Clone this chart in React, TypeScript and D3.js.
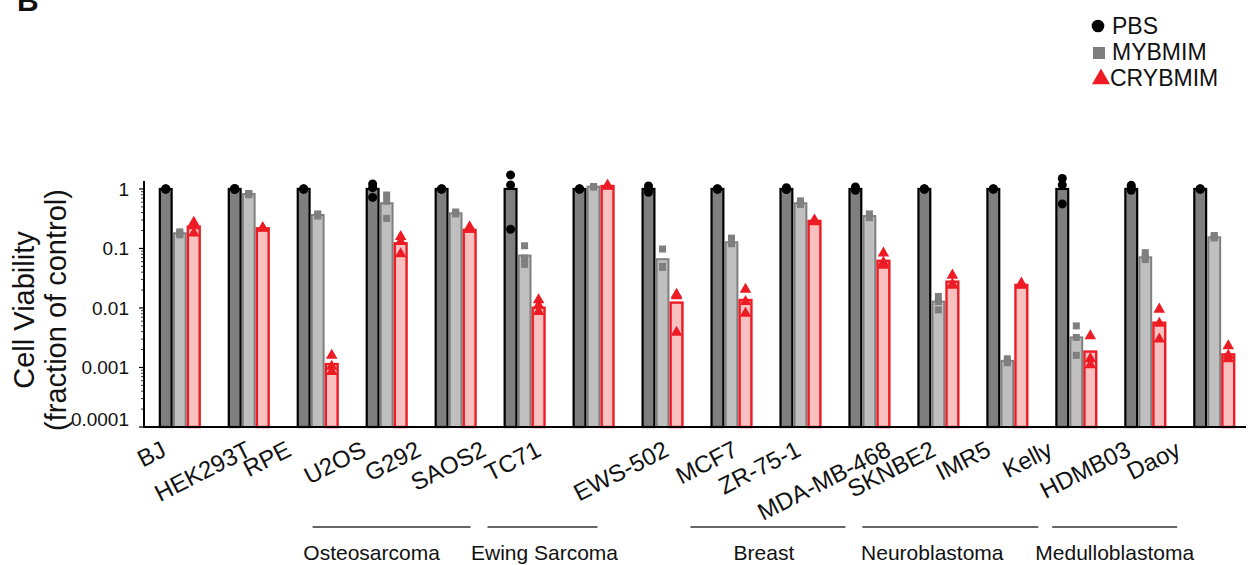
import React from "react";
import * as d3 from "d3";

// cell lines on the x axis
const cellLines = ["BJ", "HEK293T", "RPE", "U2OS", "G292", "SAOS2", "TC71", "EWS-502", "MCF7", "ZR-75-1", "MDA-MB-468", "SKNBE2", "IMR5", "Kelly", "HDMB03", "Daoy"];
const treatments = ["PBS", "MYBMIM", "CRYBMIM"];

// bar heights (fraction of control)
const pbsBars = [1, 1, 1, 1, 1, 1, 1, 1, 1, 1, 1, 1, 1, 1, 1, 1];
const mybBars = [0.18, 0.82, 0.365, 0.575, 0.39, 0.076, 1.09, 0.066, 0.127, 0.575, 0.35, 0.0128, 0.00129, 0.0032, 0.071, 0.154];
const crybBars = [0.233, 0.218, 0.00114, 0.122, 0.205, 0.0101, 1.12, 0.0123, 0.0136, 0.29, 0.062, 0.0277, 0.0244, 0.00185, 0.00566, 0.00166];

// replicate points
const pbsPoints = [
  [1, 1, 1], [1.02, 1, 0.98], [1, 1, 1], [1.21, 1.05, 0.72], [1, 1, 1], [1.72, 1.17, 0.21],
  [1, 1, 1], [1.12, 1, 0.88], [1, 1, 1], [1.05, 1, 0.98], [1.08, 1, 0.95], [1, 1, 1],
  [1, 1, 1], [1.5, 1.17, 0.56], [1.15, 1.05, 0.95], [1, 1, 1],
];
const mybPoints = [
  [0.19, 0.17, 0.18], [0.84, 0.8, 0.82], [0.38, 0.35, 0.36], [0.79, 0.62, 0.32], [0.41, 0.38, 0.39], [0.111, 0.069, 0.054],
  [1.1, 1.08, 1.09], [0.098, 0.05, 0.048], [0.149, 0.12, 0.125], [0.63, 0.55, 0.57], [0.38, 0.33, 0.34], [0.0156, 0.0128, 0.0093],
  [0.0014, 0.00128, 0.0012], [0.005, 0.0032, 0.0016], [0.085, 0.072, 0.065], [0.165, 0.15, 0.155],
];
const crybPoints = [
  [0.275, 0.24, 0.18], [0.22, 0.22, 0.22], [0.0016, 0.00104, 0.00085], [0.158, 0.13, 0.081], [0.23, 0.21, 0.21], [0.0137, 0.011, 0.0087],
  [1.15, 1.12, 1.1], [0.0169, 0.016, 0.0039], [0.0205, 0.0128, 0.0081], [0.3, 0.29, 0.28], [0.083, 0.058, 0.052], [0.0354, 0.025, 0.024],
  [0.026, 0.0245, 0.024], [0.0034, 0.0014, 0.0011], [0.0095, 0.0055, 0.003], [0.0023, 0.0016, 0.0014],
];

const yTicks = [1, 0.1, 0.01, 0.001, 0.0001];
const yTickLabels = ["1", "0.1", "0.01", "0.001", "0.0001"];

// tumour groups under the labels
const groupNames = ["Osteosarcoma", "Ewing Sarcoma", "Breast", "Neuroblastoma", "Medulloblastoma"];
const groupFirst = ["U2OS", "TC71", "MCF7", "SKNBE2", "HDMB03"];
const groupLast = ["SAOS2", "EWS-502", "MDA-MB-468", "Kelly", "Daoy"];

// layout tweaks (px) – labels were hand placed in the original
const labelNudge = [-12, 4, -25, -19, -33, -37, -51, 8, 8, 2, 23, -1, -15, -22, -13, -32];
const groupLineOffsets = [[-53, -33, -20], [-85, -44, 2], [-20, -3, -4], [-55, -17, -18], [-72, -16, 0]];

const W = 1248;
const H = 565;
const FONT = "'Liberation Sans', Arial, sans-serif";

const barStyle = [
  { fill: "#7f7f7f", stroke: "#000000", sw: 2.2 },
  { fill: "#bfbfbf", stroke: "#7f7f7f", sw: 2 },
  { fill: "#f9c0c0", stroke: "#ed1c24", sw: 2.4 },
];

export default function App() {
  const x = d3.scaleBand().domain(cellLines).range([147, 1247]).paddingInner(0.39).paddingOuter(0.17);
  const sub = d3.scaleBand().domain(treatments).range([0, x.bandwidth()]);
  const y = d3.scaleLog().domain([0.0001, 1.36]).range([427, 181]);
  const y0 = y(0.0001);

  const bars = [pbsBars, mybBars, crybBars];
  const points = [pbsPoints, mybPoints, crybPoints];

  const tri = d3.symbol().type(d3.symbolTriangle).size(58)();
  const triLegend = d3.symbol().type(d3.symbolTriangle).size(140)();

  const minorTicks: number[] = [];
  for (let e = -4; e < 0; e++) {
    for (let m = 2; m <= 9; m++) minorTicks.push(m * Math.pow(10, e));
  }

  return (
    <svg width={W} height={H} style={{ position: "absolute", left: 0, top: 0, background: "#fff" }} fontFamily={FONT}>
      <text x={17} y={11} fontSize={30} fontWeight="bold" fill="#111">B</text>

      {/* legend */}
      <g fontSize={23} fill="#111">
        <circle cx={1098} cy={26} r={6.3} fill="#000" />
        <text x={1112} y={34}>PBS</text>
        <rect x={1093} y={47} width={12} height={12} fill="#7f7f7f" />
        <text x={1112} y={60}>MYBMIM</text>
        <path d={triLegend} transform="translate(1101,79)" fill="#ed1c24" />
        <text x={1110} y={86}>CRYBMIM</text>
      </g>

      {/* bars */}
      {cellLines.map((c, i) => (
        <g key={c}>
          {treatments.map((t, k) => {
            const bx = (x(c) ?? 0) + (sub(t) ?? 0);
            const v = bars[k][i];
            return (
              <rect
                key={t}
                x={bx + 1.1}
                y={y(v)}
                width={sub.bandwidth() - 2.2}
                height={y0 - y(v)}
                fill={barStyle[k].fill}
                stroke={barStyle[k].stroke}
                strokeWidth={barStyle[k].sw}
              />
            );
          })}
        </g>
      ))}

      {/* replicate points */}
      {cellLines.map((c, i) => (
        <g key={c + "-pts"}>
          {treatments.map((t, k) => {
            const cx = (x(c) ?? 0) + (sub(t) ?? 0) + sub.bandwidth() / 2;
            return points[k][i].map((v, j) => {
              if (k === 0) return <circle key={t + j} cx={cx} cy={y(v)} r={4.5} fill="#000" />;
              if (k === 1) return <rect key={t + j} x={cx - 3.5} y={y(v) - 3.5} width={7} height={7} fill="#7f7f7f" />;
              return <path key={t + j} d={tri} transform={`translate(${cx},${y(v)})`} fill="#ed1c24" />;
            });
          })}
        </g>
      ))}

      {/* y axis */}
      <line x1={144} x2={144} y1={181} y2={y0} stroke="#000" strokeWidth={2} />
      {minorTicks.map((t) => (
        <line key={t} x1={141} x2={144} y1={y(t)} y2={y(t)} stroke="#000" strokeWidth={0.8} />
      ))}
      {yTicks.map((t, i) => (
        <g key={t}>
          <line x1={139} x2={144} y1={y(t)} y2={y(t)} stroke="#000" strokeWidth={1.2} />
          <text
            x={129}
            y={y(t) - (i === yTicks.length - 1 ? 8 : 0)}
            dy="0.35em"
            textAnchor="end"
            fontSize={19}
            fill="#111"
          >
            {yTickLabels[i]}
          </text>
        </g>
      ))}

      {/* x axis */}
      <line x1={143} x2={1246} y1={y0} y2={y0} stroke="#000" strokeWidth={2} />

      {/* y label */}
      <g transform={`translate(0,${(181 + y0) / 2 + 6}) rotate(-90)`} fontSize={29} fill="#111" textAnchor="middle">
        <text x={0} y={34}>Cell Viability</text>
        <text x={0} y={66}>(fraction of control)</text>
      </g>

      {/* cell line labels */}
      {cellLines.map((c, i) => {
        const ex = (x(c) ?? 0) + x.bandwidth() / 2 + labelNudge[i];
        return (
          <text
            key={c + "-lab"}
            transform={`translate(${ex},455) rotate(-27)`}
            textAnchor="end"
            fontSize={24}
            fill="#111"
          >
            {c}
          </text>
        );
      })}

      {/* tumour groups */}
      {groupNames.map((g, i) => {
        const x1 = (x(groupFirst[i]) ?? 0) + groupLineOffsets[i][0];
        const x2 = (x(groupLast[i]) ?? 0) + groupLineOffsets[i][1];
        const mid = (x1 + x2) / 2 + groupLineOffsets[i][2];
        return (
          <g key={g}>
            <line x1={x1} x2={x2} y1={527} y2={527} stroke="#333" strokeWidth={1.5} />
            <text x={mid} y={560} textAnchor="middle" fontSize={21} fill="#111">{g}</text>
          </g>
        );
      })}
    </svg>
  );
}
